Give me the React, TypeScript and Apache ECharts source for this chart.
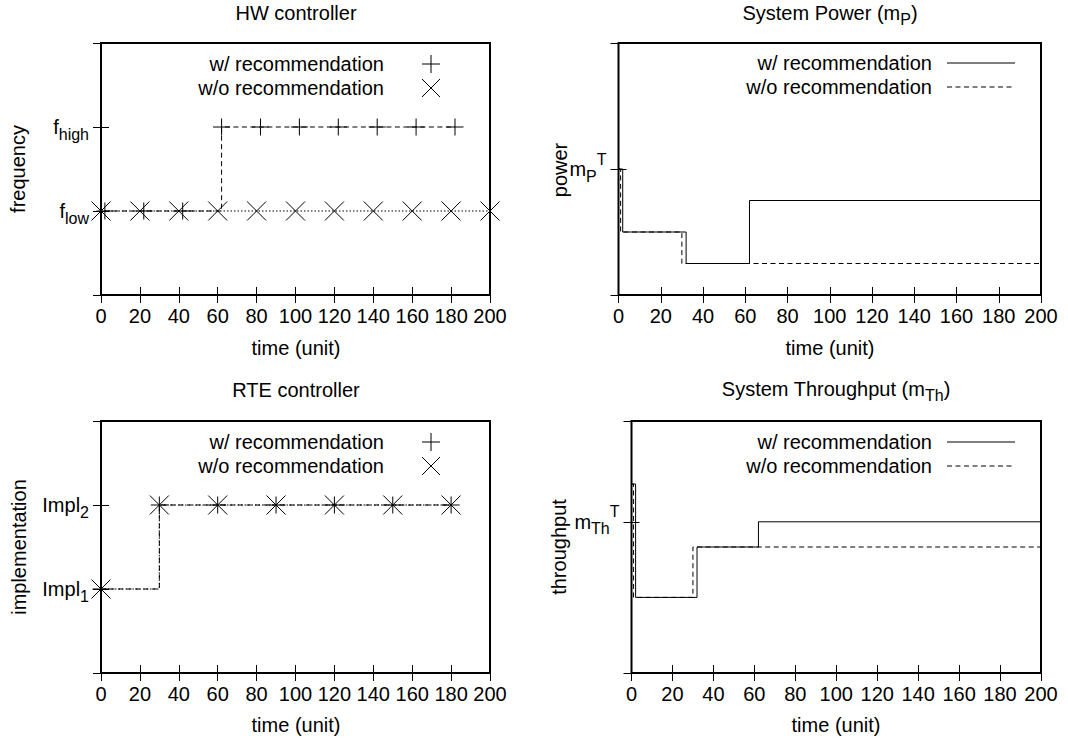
import { useEffect, useRef } from 'react';
import * as echarts from 'echarts';

const FONT = 'Liberation Sans';

// shared x axis (time)
const timeMin = 0;
const timeMax = 200;
const timeStep = 20;

const legendLabels = ['w/ recommendation', 'w/o recommendation'];

// HW controller (frequency level: 1 = f_low, 2 = f_high)
const hwWithTime = [2, 22, 42, 62, 82, 102, 122, 142, 162, 182];
const hwWithLevel = [1, 1, 1, 2, 2, 2, 2, 2, 2, 2];
const hwWithoutTime = [0, 20, 40, 60, 80, 100, 120, 140, 160, 180, 200];
const hwWithoutLevel = [1, 1, 1, 1, 1, 1, 1, 1, 1, 1, 1];
const freqTickValues = [1, 2];
const freqTickBase = ['f', 'f'];
const freqTickSub = ['low', 'high'];

// RTE controller (implementation: 1 = Impl_1, 2 = Impl_2)
const rteWithTime = [0, 30, 60, 90, 120, 150, 180];
const rteWithLevel = [1, 2, 2, 2, 2, 2, 2];
const rteWithoutTime = [0, 30, 60, 90, 120, 150, 180];
const rteWithoutLevel = [1, 2, 2, 2, 2, 2, 2];
const implTickValues = [1, 2];
const implTickBase = ['Impl', 'Impl'];
const implTickSub = ['1', '2'];

// System power
const powerWithTime = [0, 2, 32, 62, 200];
const powerWithValue = [5, 2.5, 1.25, 3.75, 3.75];
const powerWithoutTime = [0, 1, 30, 200];
const powerWithoutValue = [5, 2.5, 1.25, 1.25];
const powerTarget = 5;

// System throughput
const thrWithTime = [0, 2, 32, 62, 200];
const thrWithValue = [7.5, 3, 5, 6, 6];
const thrWithoutTime = [0, 1, 30, 200];
const thrWithoutValue = [7.5, 3, 5, 5];
const thrTarget = 6;

const zip = (xs: number[], ys: number[]) => xs.map((x, i) => [x, ys[i]]);

const PLUS_SYM = 'path://M0,-1L0,1M-1,0L1,0';
const CROSS_SYM = 'path://M-1,-1L1,1M-1,1L1,-1';
const PLUS_ICON = 'path://M9,0L9,18M0,9L18,9';
const CROSS_ICON = 'path://M0,0L18,18M0,18L18,0';

const DASH = [5, 3.5];
const DOT = [1.5, 2];

const rich = {
  b: { fontSize: 20, fontFamily: FONT, color: '#000', lineHeight: 30 },
  s: { fontSize: 16, fontFamily: FONT, color: '#000', lineHeight: 30, padding: [14, 0, 0, 0] },
  u: { fontSize: 16, fontFamily: FONT, color: '#000', lineHeight: 30, padding: [0, 0, 20, 0] },
};

function buildOption() {
  const grids = [
    { left: 101, top: 43, width: 389, height: 252 },
    { left: 618.5, top: 43, width: 422.5, height: 252 },
    { left: 101, top: 421, width: 389, height: 252 },
    { left: 631.5, top: 421, width: 409.5, height: 252 },
  ].map((g) => ({ ...g, show: true, borderColor: '#000', borderWidth: 2, backgroundColor: 'transparent' }));

  const tick = { show: true, inside: true, length: 8, lineStyle: { color: '#000', width: 1 } };

  const xAxis: any[] = [];
  const yAxis: any[] = [];
  const ySpecs = [
    {
      min: 0, max: 3, interval: 1,
      fmt: (v: number) => {
        const i = freqTickValues.indexOf(v);
        return i < 0 ? '' : `{b|${freqTickBase[i]}}{s|${freqTickSub[i]}}`;
      },
    },
    { min: 0, max: 10, interval: 5, fmt: (v: number) => (v === powerTarget ? '{b|m}{s|P}{u|T}' : '') },
    {
      min: 0, max: 3, interval: 1,
      fmt: (v: number) => {
        const i = implTickValues.indexOf(v);
        return i < 0 ? '' : `{b|${implTickBase[i]}}{s|${implTickSub[i]}}`;
      },
    },
    { min: 0, max: 10, interval: 6, fmt: (v: number) => (v === thrTarget ? '{b|m}{s|Th}{u|T}' : '') },
  ];

  for (let g = 0; g < 4; g++) {
    xAxis.push({
      type: 'value', gridIndex: g, position: 'bottom', min: timeMin, max: timeMax, interval: timeStep,
      axisLine: { show: false }, splitLine: { show: false }, axisTick: tick,
      axisLabel: { fontSize: 20, fontFamily: FONT, color: '#000', margin: 11 },
    });
    xAxis.push({
      type: 'value', gridIndex: g, position: 'top', min: timeMin, max: timeMax, interval: timeStep,
      axisLine: { show: false }, splitLine: { show: false }, axisTick: tick, axisLabel: { show: false },
    });
    const s = ySpecs[g];
    yAxis.push({
      type: 'value', gridIndex: g, position: 'left', min: s.min, max: s.max, interval: s.interval,
      axisLine: { show: false }, splitLine: { show: false }, axisTick: tick,
      axisLabel: { formatter: s.fmt, rich, margin: 12, fontFamily: FONT, color: '#000' },
    });
    yAxis.push({
      type: 'value', gridIndex: g, position: 'right', min: s.min, max: s.max, interval: s.interval,
      axisLine: { show: false }, splitLine: { show: false }, axisTick: tick, axisLabel: { show: false },
    });
  }

  const base = (g: number) => ({
    type: 'line', xAxisIndex: 2 * g, yAxisIndex: 2 * g, step: 'end', clip: false, silent: true,
    emphasis: { disabled: true }, animation: false,
  });

  const series: any[] = [
    {
      ...base(0), name: legendLabels[0] + '#hw', data: zip(hwWithTime, hwWithLevel),
      symbol: PLUS_SYM, symbolSize: 17, showSymbol: true, showAllSymbol: true,
      lineStyle: { color: '#000', width: 1, type: DASH },
      itemStyle: { color: '#000', borderColor: '#000', borderWidth: 1 },
    },
    {
      ...base(0), name: legendLabels[1] + '#hw', data: zip(hwWithoutTime, hwWithoutLevel),
      symbol: CROSS_SYM, symbolSize: 19, showSymbol: true, showAllSymbol: true,
      lineStyle: { color: '#000', width: 1, type: DOT },
      itemStyle: { color: '#000', borderColor: '#000', borderWidth: 1 },
    },
    {
      ...base(1), name: legendLabels[0] + '#pw', data: zip(powerWithTime, powerWithValue),
      symbol: 'none', showSymbol: false,
      lineStyle: { color: '#000', width: 1, type: 'solid' },
      itemStyle: { color: '#000' },
    },
    {
      ...base(1), name: legendLabels[1] + '#pw', data: zip(powerWithoutTime, powerWithoutValue),
      symbol: 'none', showSymbol: false,
      lineStyle: { color: '#000', width: 1, type: DASH },
      itemStyle: { color: '#000' },
    },
    {
      ...base(2), name: legendLabels[0] + '#rte', data: zip(rteWithTime, rteWithLevel),
      symbol: PLUS_SYM, symbolSize: 17, showSymbol: true, showAllSymbol: true,
      lineStyle: { color: '#000', width: 1, type: DASH },
      itemStyle: { color: '#000', borderColor: '#000', borderWidth: 1 },
    },
    {
      ...base(2), name: legendLabels[1] + '#rte', data: zip(rteWithoutTime, rteWithoutLevel),
      symbol: CROSS_SYM, symbolSize: 19, showSymbol: true, showAllSymbol: true,
      lineStyle: { color: '#000', width: 1, type: DOT },
      itemStyle: { color: '#000', borderColor: '#000', borderWidth: 1 },
    },
    {
      ...base(3), name: legendLabels[0] + '#th', data: zip(thrWithTime, thrWithValue),
      symbol: 'none', showSymbol: false,
      lineStyle: { color: '#000', width: 1, type: 'solid' },
      itemStyle: { color: '#000' },
    },
    {
      ...base(3), name: legendLabels[1] + '#th', data: zip(thrWithoutTime, thrWithoutValue),
      symbol: 'none', showSymbol: false,
      lineStyle: { color: '#000', width: 1, type: DASH },
      itemStyle: { color: '#000' },
    },
  ];

  const legendText = { fontSize: 20, fontFamily: FONT, color: '#000' };
  const markerLegend = (suffix: string, top: number) => ({
    orient: 'vertical', align: 'right', right: 627.5, top, padding: 0,
    itemWidth: 18, itemHeight: 18, itemGap: 4, selectedMode: false,
    data: [
      { name: legendLabels[0] + suffix, icon: PLUS_ICON },
      { name: legendLabels[1] + suffix, icon: CROSS_ICON },
    ],
    formatter: (n: string) => n.split('#')[0],
    textStyle: { ...legendText, padding: [0, 33, 0, 0] },
    itemStyle: { borderWidth: 1, borderColor: '#000' },
  });
  const lineLegend = (suffix: string, top: number) => ({
    orient: 'vertical', align: 'right', right: 52.5, top, padding: 0,
    itemWidth: 68, itemHeight: 14, itemGap: 4, selectedMode: false,
    data: [legendLabels[0] + suffix, legendLabels[1] + suffix],
    formatter: (n: string) => n.split('#')[0],
    textStyle: { ...legendText, padding: [0, 10, 0, 0] },
    itemStyle: { opacity: 0 },
    lineStyle: { width: 1 },
  });

  const txt = (x: number, y: number, text: string, rotation = 0) => ({
    type: 'text', x, y, rotation, silent: true,
    style: {
      text, fontSize: 20, fontFamily: FONT, fill: '#000',
      align: 'center', verticalAlign: 'middle', textAlign: 'center', textVerticalAlign: 'middle',
      rich: { s: { fontSize: 16, fontFamily: FONT, fill: '#000', padding: [12, 0, 0, 0] } },
    },
  });

  return {
    animation: false,
    backgroundColor: '#fff',
    textStyle: { fontFamily: FONT },
    grid: grids,
    xAxis,
    yAxis,
    series,
    legend: [markerLegend('#hw', 54), lineLegend('#pw', 53), markerLegend('#rte', 432), lineLegend('#th', 432)],
    graphic: [
      txt(296, 13, 'HW controller'),
      txt(830, 13, 'System Power (m{s|P})'),
      txt(296, 390, 'RTE controller'),
      txt(836, 389, 'System Throughput (m{s|Th})'),
      txt(296, 348, 'time (unit)'),
      txt(830, 348, 'time (unit)'),
      txt(296, 725, 'time (unit)'),
      txt(836, 725, 'time (unit)'),
      txt(18, 169, 'frequency', Math.PI / 2),
      txt(560, 170, 'power', Math.PI / 2),
      txt(19, 547, 'implementation', Math.PI / 2),
      txt(559, 547, 'throughput', Math.PI / 2),
    ],
  };
}

export default function App() {
  const ref = useRef<HTMLDivElement>(null);
  useEffect(() => {
    const chart = echarts.init(ref.current!, null, { renderer: 'svg' });
    chart.setOption(buildOption() as any);
    return () => chart.dispose();
  }, []);
  return (
    <div
      ref={ref}
      style={{ position: 'absolute', left: 0, top: 0, width: 1068, height: 743, background: '#fff' }}
    />
  );
}
